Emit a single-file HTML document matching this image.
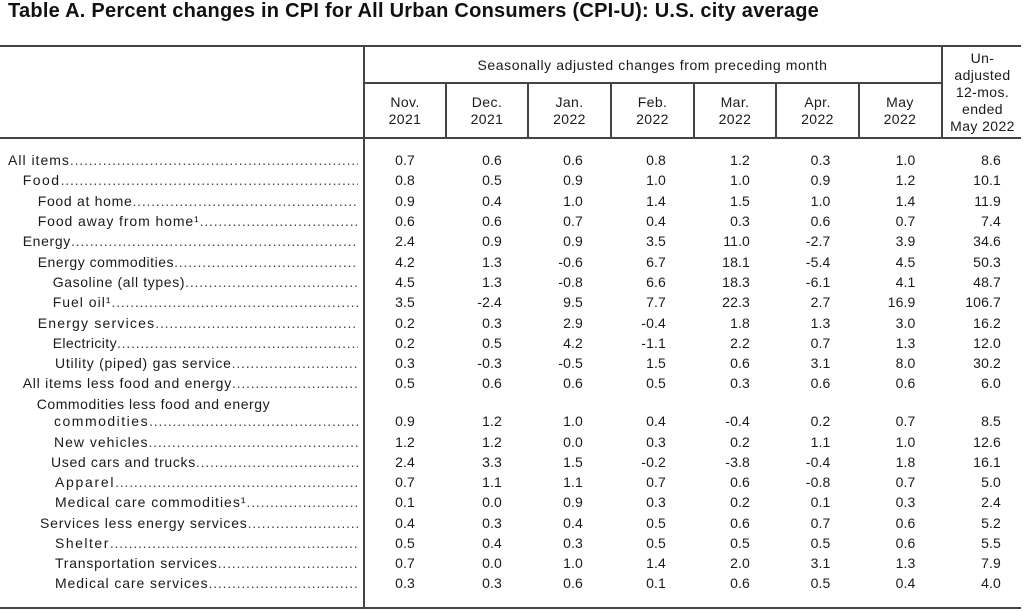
<!DOCTYPE html>
<html><head><meta charset="utf-8">
<style>
html,body{margin:0;padding:0;background:#fff;}
body{width:1024px;height:611px;position:relative;overflow:hidden;font-family:"Liberation Sans",Arial,sans-serif;color:#1a1a1a;}
.title{position:absolute;left:8px;top:0.5px;font-size:20px;line-height:20px;font-weight:bold;letter-spacing:0.25px;white-space:nowrap;color:#111;}
.ln{position:absolute;background:#444;}
.hd{position:absolute;font-size:14px;line-height:17px;text-align:center;letter-spacing:0.4px;white-space:nowrap;}
.r{position:absolute;left:0;width:1024px;height:20px;font-size:14px;line-height:20px;}
.lab{position:absolute;top:0;display:flex;white-space:nowrap;}
.lab .t{flex:none;}
.lab .d{flex:1;overflow:hidden;letter-spacing:0.8px;color:#444;}
.n{position:absolute;top:0;text-align:right;white-space:nowrap;letter-spacing:0.15px;}
.c1{right:609px}.c2{right:522px}.c3{right:441px}.c4{right:358px}.c5{right:274px}.c6{right:193.5px}.c7{right:108.5px}.c8{right:23px}
</style></head><body>
<div class="title">Table A. Percent changes in CPI for All Urban Consumers (CPI-U): U.S. city average</div>

<!-- lines -->
<div class="ln" style="left:0;top:45px;width:1021px;height:2px;"></div>
<div class="ln" style="left:364px;top:82px;width:578px;height:2px;"></div>
<div class="ln" style="left:0;top:137px;width:1021px;height:2px;"></div>
<div class="ln" style="left:0;top:607px;width:1021px;height:2px;"></div>
<div class="ln" style="left:363px;top:46px;width:2px;height:562px;"></div>
<div class="ln" style="left:445px;top:83px;width:2px;height:55px;"></div>
<div class="ln" style="left:527px;top:83px;width:2px;height:55px;"></div>
<div class="ln" style="left:610px;top:83px;width:2px;height:55px;"></div>
<div class="ln" style="left:693px;top:83px;width:2px;height:55px;"></div>
<div class="ln" style="left:775px;top:83px;width:2px;height:55px;"></div>
<div class="ln" style="left:858px;top:83px;width:2px;height:55px;"></div>
<div class="ln" style="left:941px;top:46px;width:2px;height:92px;"></div>

<!-- header -->
<div class="hd" style="left:364px;width:577px;top:56.6px;letter-spacing:0.58px;">Seasonally adjusted changes from preceding month</div>
<div class="hd" style="left:364px;width:82px;top:94.2px;">Nov.<br>2021</div>
<div class="hd" style="left:446px;width:82px;top:94.2px;">Dec.<br>2021</div>
<div class="hd" style="left:528px;width:83px;top:94.2px;">Jan.<br>2022</div>
<div class="hd" style="left:611px;width:83px;top:94.2px;">Feb.<br>2022</div>
<div class="hd" style="left:694px;width:82px;top:94.2px;">Mar.<br>2022</div>
<div class="hd" style="left:776px;width:83px;top:94.2px;">Apr.<br>2022</div>
<div class="hd" style="left:859px;width:82px;top:94.2px;">May<br>2022</div>
<div class="hd" style="left:942px;width:81px;top:50.2px;">Un-<br>adjusted<br>12-mos.<br>ended<br>May 2022</div>

<!-- rows -->
<div class="r" style="top:150.15px"><div class="lab" style="left:8px;width:350px"><span class="t" style="letter-spacing:1px">All items</span><span class="d">................................................................................</span></div>
<span class="n c1">0.7</span><span class="n c2">0.6</span><span class="n c3">0.6</span><span class="n c4">0.8</span><span class="n c5">1.2</span><span class="n c6">0.3</span><span class="n c7">1.0</span><span class="n c8">8.6</span></div>

<div class="r" style="top:170.45px"><div class="lab" style="left:22.7px;width:335.3px"><span class="t" style="letter-spacing:1.5px">Food</span><span class="d">................................................................................</span></div>
<span class="n c1">0.8</span><span class="n c2">0.5</span><span class="n c3">0.9</span><span class="n c4">1.0</span><span class="n c5">1.0</span><span class="n c6">0.9</span><span class="n c7">1.2</span><span class="n c8">10.1</span></div>

<div class="r" style="top:190.75px"><div class="lab" style="left:37.7px;width:320.3px"><span class="t" style="letter-spacing:0.7px">Food at home</span><span class="d">................................................................................</span></div>
<span class="n c1">0.9</span><span class="n c2">0.4</span><span class="n c3">1.0</span><span class="n c4">1.4</span><span class="n c5">1.5</span><span class="n c6">1.0</span><span class="n c7">1.4</span><span class="n c8">11.9</span></div>

<div class="r" style="top:211.05px"><div class="lab" style="left:37.7px;width:320.3px"><span class="t" style="letter-spacing:0.9px">Food away from home¹</span><span class="d">................................................................................</span></div>
<span class="n c1">0.6</span><span class="n c2">0.6</span><span class="n c3">0.7</span><span class="n c4">0.4</span><span class="n c5">0.3</span><span class="n c6">0.6</span><span class="n c7">0.7</span><span class="n c8">7.4</span></div>

<div class="r" style="top:231.35px"><div class="lab" style="left:22.7px;width:335.3px"><span class="t" style="letter-spacing:0.65px">Energy</span><span class="d">................................................................................</span></div>
<span class="n c1">2.4</span><span class="n c2">0.9</span><span class="n c3">0.9</span><span class="n c4">3.5</span><span class="n c5">11.0</span><span class="n c6">-2.7</span><span class="n c7">3.9</span><span class="n c8">34.6</span></div>

<div class="r" style="top:251.65px"><div class="lab" style="left:37.7px;width:320.3px"><span class="t" style="letter-spacing:0.53px">Energy commodities</span><span class="d">................................................................................</span></div>
<span class="n c1">4.2</span><span class="n c2">1.3</span><span class="n c3">-0.6</span><span class="n c4">6.7</span><span class="n c5">18.1</span><span class="n c6">-5.4</span><span class="n c7">4.5</span><span class="n c8">50.3</span></div>

<div class="r" style="top:271.95px"><div class="lab" style="left:52.7px;width:305.3px"><span class="t" style="letter-spacing:0.63px">Gasoline (all types)</span><span class="d">................................................................................</span></div>
<span class="n c1">4.5</span><span class="n c2">1.3</span><span class="n c3">-0.8</span><span class="n c4">6.6</span><span class="n c5">18.3</span><span class="n c6">-6.1</span><span class="n c7">4.1</span><span class="n c8">48.7</span></div>

<div class="r" style="top:292.25px"><div class="lab" style="left:52.7px;width:305.3px"><span class="t" style="letter-spacing:1px">Fuel oil¹</span><span class="d">................................................................................</span></div>
<span class="n c1">3.5</span><span class="n c2">-2.4</span><span class="n c3">9.5</span><span class="n c4">7.7</span><span class="n c5">22.3</span><span class="n c6">2.7</span><span class="n c7">16.9</span><span class="n c8">106.7</span></div>

<div class="r" style="top:312.55px"><div class="lab" style="left:37.7px;width:320.3px"><span class="t" style="letter-spacing:1.2px">Energy services</span><span class="d">................................................................................</span></div>
<span class="n c1">0.2</span><span class="n c2">0.3</span><span class="n c3">2.9</span><span class="n c4">-0.4</span><span class="n c5">1.8</span><span class="n c6">1.3</span><span class="n c7">3.0</span><span class="n c8">16.2</span></div>

<div class="r" style="top:332.85px"><div class="lab" style="left:52.7px;width:305.3px"><span class="t" style="letter-spacing:0.4px">Electricity</span><span class="d">................................................................................</span></div>
<span class="n c1">0.2</span><span class="n c2">0.5</span><span class="n c3">4.2</span><span class="n c4">-1.1</span><span class="n c5">2.2</span><span class="n c6">0.7</span><span class="n c7">1.3</span><span class="n c8">12.0</span></div>

<div class="r" style="top:353.15px"><div class="lab" style="left:55px;width:303px"><span class="t" style="letter-spacing:0.75px">Utility (piped) gas service</span><span class="d">................................................................................</span></div>
<span class="n c1">0.3</span><span class="n c2">-0.3</span><span class="n c3">-0.5</span><span class="n c4">1.5</span><span class="n c5">0.6</span><span class="n c6">3.1</span><span class="n c7">8.0</span><span class="n c8">30.2</span></div>

<div class="r" style="top:373.45px"><div class="lab" style="left:22.7px;width:335.3px"><span class="t" style="letter-spacing:0.75px">All items less food and energy</span><span class="d">................................................................................</span></div>
<span class="n c1">0.5</span><span class="n c2">0.6</span><span class="n c3">0.6</span><span class="n c4">0.5</span><span class="n c5">0.3</span><span class="n c6">0.6</span><span class="n c7">0.6</span><span class="n c8">6.0</span></div>

<div class="r" style="top:393.75px"><div class="lab" style="left:36.7px;width:321.3px"><span class="t" style="letter-spacing:0.56px">Commodities less food and energy</span></div></div>

<div class="r" style="top:411.45px"><div class="lab" style="left:54px;width:304px"><span class="t" style="letter-spacing:1.5px">commodities</span><span class="d">................................................................................</span></div>
<span class="n c1">0.9</span><span class="n c2">1.2</span><span class="n c3">1.0</span><span class="n c4">0.4</span><span class="n c5">-0.4</span><span class="n c6">0.2</span><span class="n c7">0.7</span><span class="n c8">8.5</span></div>

<div class="r" style="top:431.65px"><div class="lab" style="left:54px;width:304px"><span class="t" style="letter-spacing:1px">New vehicles</span><span class="d">................................................................................</span></div>
<span class="n c1">1.2</span><span class="n c2">1.2</span><span class="n c3">0.0</span><span class="n c4">0.3</span><span class="n c5">0.2</span><span class="n c6">1.1</span><span class="n c7">1.0</span><span class="n c8">12.6</span></div>

<div class="r" style="top:451.9px"><div class="lab" style="left:51px;width:307px"><span class="t" style="letter-spacing:0.67px">Used cars and trucks</span><span class="d">................................................................................</span></div>
<span class="n c1">2.4</span><span class="n c2">3.3</span><span class="n c3">1.5</span><span class="n c4">-0.2</span><span class="n c5">-3.8</span><span class="n c6">-0.4</span><span class="n c7">1.8</span><span class="n c8">16.1</span></div>

<div class="r" style="top:472.15px"><div class="lab" style="left:55px;width:303px"><span class="t" style="letter-spacing:1.7px">Apparel</span><span class="d">................................................................................</span></div>
<span class="n c1">0.7</span><span class="n c2">1.1</span><span class="n c3">1.1</span><span class="n c4">0.7</span><span class="n c5">0.6</span><span class="n c6">-0.8</span><span class="n c7">0.7</span><span class="n c8">5.0</span></div>

<div class="r" style="top:492.4px"><div class="lab" style="left:55px;width:303px"><span class="t" style="letter-spacing:1px">Medical care commodities¹</span><span class="d">................................................................................</span></div>
<span class="n c1">0.1</span><span class="n c2">0.0</span><span class="n c3">0.9</span><span class="n c4">0.3</span><span class="n c5">0.2</span><span class="n c6">0.1</span><span class="n c7">0.3</span><span class="n c8">2.4</span></div>

<div class="r" style="top:512.65px"><div class="lab" style="left:40px;width:318px"><span class="t" style="letter-spacing:0.8px">Services less energy services</span><span class="d">................................................................................</span></div>
<span class="n c1">0.4</span><span class="n c2">0.3</span><span class="n c3">0.4</span><span class="n c4">0.5</span><span class="n c5">0.6</span><span class="n c6">0.7</span><span class="n c7">0.6</span><span class="n c8">5.2</span></div>

<div class="r" style="top:532.9px"><div class="lab" style="left:55px;width:303px"><span class="t" style="letter-spacing:1.5px">Shelter</span><span class="d">................................................................................</span></div>
<span class="n c1">0.5</span><span class="n c2">0.4</span><span class="n c3">0.3</span><span class="n c4">0.5</span><span class="n c5">0.5</span><span class="n c6">0.5</span><span class="n c7">0.6</span><span class="n c8">5.5</span></div>

<div class="r" style="top:553.15px"><div class="lab" style="left:55px;width:303px"><span class="t" style="letter-spacing:0.77px">Transportation services</span><span class="d">................................................................................</span></div>
<span class="n c1">0.7</span><span class="n c2">0.0</span><span class="n c3">1.0</span><span class="n c4">1.4</span><span class="n c5">2.0</span><span class="n c6">3.1</span><span class="n c7">1.3</span><span class="n c8">7.9</span></div>

<div class="r" style="top:573.4px"><div class="lab" style="left:55px;width:303px"><span class="t" style="letter-spacing:0.9px">Medical care services</span><span class="d">................................................................................</span></div>
<span class="n c1">0.3</span><span class="n c2">0.3</span><span class="n c3">0.6</span><span class="n c4">0.1</span><span class="n c5">0.6</span><span class="n c6">0.5</span><span class="n c7">0.4</span><span class="n c8">4.0</span></div>

</body></html>
